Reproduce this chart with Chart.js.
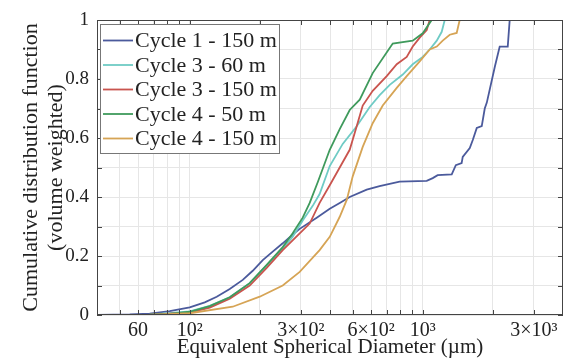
<!DOCTYPE html>
<html>
<head>
<meta charset="utf-8">
<script src="https://cdn.jsdelivr.net/npm/chart.js@4.4.1/dist/chart.umd.min.js"></script>
<style>
  html, body { margin: 0; padding: 0; background: #fff; }
  #wrap { width: 564px; height: 363px; }
</style>
</head>
<body>
<div id="wrap"><canvas id="cdf" width="564" height="363"></canvas></div>
<script>
// Cumulative distribution curves (diameter in um, CDF 0..1)
const seriesLabels = ['Cycle 1 - 150 m', 'Cycle 3 - 60 m', 'Cycle 3 - 150 m', 'Cycle 4 - 50 m', 'Cycle 4 - 150 m'];
const seriesColors = ['#4b5a9c', '#6fcbc5', '#c9544e', '#3f9a5c', '#d6a455'];

const cycle1x150 = [40, 55.3, 67.3, 82.1, 100, 116, 130.6, 148.5, 168.9, 186.4, 205.8, 227.1, 250.7, 274.1, 296.5, 350.8, 399, 440.4, 486, 575, 653, 796, 1040, 1104, 1159, 1332, 1387, 1469, 1485, 1592, 1640, 1706, 1792, 1846, 1884, 2037, 2140, 2317, 2362, 4000];
const cycle1y150 = [0, 0.002, 0.005, 0.013, 0.026, 0.043, 0.062, 0.088, 0.119, 0.15, 0.186, 0.215, 0.243, 0.27, 0.292, 0.33, 0.36, 0.38, 0.40, 0.425, 0.437, 0.452, 0.455, 0.464, 0.474, 0.477, 0.508, 0.515, 0.536, 0.566, 0.593, 0.634, 0.64, 0.70, 0.72, 0.84, 0.91, 0.91, 1, 1];

const cycle3x60 = [40, 67.3, 100, 121.9, 148.5, 180.9, 214, 250.7, 276.7, 305.5, 337.2, 361, 399, 453.6, 520.8, 592.3, 653.5, 722, 820.9, 906, 1000, 1071.5, 1148.6, 1206.6, 1243, 4000];
const cycle3y60 = [0, 0.001, 0.012, 0.031, 0.06, 0.108, 0.168, 0.225, 0.265, 0.32, 0.37, 0.41, 0.505, 0.58, 0.64, 0.705, 0.745, 0.78, 0.815, 0.85, 0.875, 0.9, 0.93, 0.96, 1, 1];

const cycle3x150 = [40, 67.3, 100, 121.9, 148.5, 180.9, 214, 250.7, 296.5, 327.3, 361, 399, 440.4, 486, 520.8, 552.7, 610, 700.6, 773.6, 853.8, 906, 970.8, 1040.4, 1071.5, 4000];
const cycle3y150 = [0, 0.001, 0.008, 0.025, 0.055, 0.1, 0.16, 0.22, 0.277, 0.31, 0.38, 0.44, 0.50, 0.56, 0.64, 0.71, 0.76, 0.81, 0.85, 0.875, 0.91, 0.94, 0.966, 1, 1];

const cycle4x50 = [40, 67.3, 82.1, 100, 121.9, 148.5, 180.9, 214, 250.7, 276.7, 305.5, 327.3, 354.3, 399, 440.4, 486, 536.6, 610, 743.5, 906, 1000, 1093, 4000];
const cycle4y50 = [0, 0.001, 0.004, 0.011, 0.03, 0.06, 0.108, 0.17, 0.23, 0.277, 0.33, 0.38, 0.45, 0.56, 0.63, 0.695, 0.73, 0.82, 0.92, 0.93, 0.955, 1, 1];

const cycle4x150 = [40, 67.3, 100, 152.9, 199.7, 250.7, 296.5, 361, 399, 440.4, 472, 500.7, 552.7, 610, 673.6, 773.6, 853.8, 970.8, 1071.5, 1148.6, 1218.6, 1306, 1399, 1441, 4000];
const cycle4y150 = [0, 0, 0.006, 0.028, 0.062, 0.10, 0.146, 0.22, 0.265, 0.333, 0.39, 0.47, 0.57, 0.65, 0.71, 0.77, 0.81, 0.86, 0.9, 0.91, 0.93, 0.95, 0.956, 1, 1];

const seriesX = [cycle1x150, cycle3x60, cycle3x150, cycle4x50, cycle4x150];
const seriesY = [cycle1y150, cycle3y60, cycle3y150, cycle4y50, cycle4y150];

// axis ticks
const xGridValues = [50, 60, 70, 80, 90, 100, 200, 300, 400, 500, 600, 700, 800, 900, 1000, 2000, 3000];
const xTickValues = [60, 100, 300, 600, 1000, 3000];
const xTickLabels = ['60', '10²', '3×10²', '6×10²', '10³', '3×10³'];
const yGridValues = [0, 0.1, 0.2, 0.3, 0.4, 0.5, 0.6, 0.7, 0.8, 0.9, 1];
const yTickValues = [0, 0.2, 0.4, 0.6, 0.8, 1];
const yTickLabels = ['0', '0.2', '0.4', '0.6', '0.8', '1'];

const serif = '"Liberation Serif", "DejaVu Serif", serif';
const textColor = '#222';

// inward tick marks, axes box and the boxed legend
const frameAndLegend = {
    id: 'frameAndLegend',
    afterDraw(chart) {
        const { ctx, chartArea: a, scales: { x, y } } = chart;
        ctx.save();
        ctx.strokeStyle = '#444';
        ctx.lineWidth = 1;
        ctx.beginPath();
        x.ticks.forEach(t => {
            const px = Math.round(x.getPixelForValue(t.value)) + 0.5;
            ctx.moveTo(px, a.bottom); ctx.lineTo(px, a.bottom - 5);
            ctx.moveTo(px, a.top); ctx.lineTo(px, a.top + 5);
        });
        y.ticks.forEach(t => {
            const py = Math.round(y.getPixelForValue(t.value)) + 0.5;
            ctx.moveTo(a.left, py); ctx.lineTo(a.left + 5, py);
            ctx.moveTo(a.right, py); ctx.lineTo(a.right - 5, py);
        });
        ctx.stroke();
        ctx.strokeRect(a.left + 0.5, a.top + 0.5, a.right - a.left - 1, a.bottom - a.top - 1);

        // legend
        const box = { left: 100, top: 24, width: 179, height: 129 };
        ctx.fillStyle = '#fff';
        ctx.fillRect(box.left, box.top, box.width, box.height);
        ctx.strokeStyle = '#777';
        ctx.strokeRect(box.left + 0.5, box.top + 0.5, box.width, box.height);
        ctx.font = '22px ' + serif;
        ctx.textBaseline = 'middle';
        ctx.textAlign = 'left';
        seriesLabels.forEach((lab, i) => {
            const ry = 40.5 + i * 24.5;
            ctx.strokeStyle = seriesColors[i];
            ctx.lineWidth = 1.8;
            ctx.beginPath();
            ctx.moveTo(103, ry); ctx.lineTo(133, ry);
            ctx.stroke();
            ctx.fillStyle = textColor;
            ctx.fillText(lab, 135, ry + 1);
        });
        ctx.restore();
    }
};

const datasets = seriesLabels.map((lab, i) => ({
    label: lab,
    data: seriesX[i].map((xv, j) => ({ x: xv, y: seriesY[i][j] })),
    borderColor: seriesColors[i],
    borderWidth: 1.8,
    pointRadius: 0,
    tension: 0,
    fill: false,
    order: seriesLabels.length - i
}));

new Chart(document.getElementById('cdf'), {
    type: 'line',
    data: { datasets },
    plugins: [frameAndLegend],
    options: {
        responsive: false,
        animation: false,
        devicePixelRatio: 1,
        layout: { padding: { top: 20, right: 1, left: 0, bottom: 0 } },
        plugins: { legend: { display: false }, tooltip: { enabled: false } },
        scales: {
            x: {
                type: 'logarithmic',
                min: 40,
                max: 4000,
                afterFit: s => { s.height = 48; },
                afterBuildTicks: s => { s.ticks = xGridValues.map(v => ({ value: v })); },
                grid: { color: '#e6e6e6', drawTicks: false },
                border: { display: false },
                ticks: {
                    autoSkip: false,
                    maxRotation: 0,
                    padding: 4,
                    color: textColor,
                    font: { family: serif, size: 20 },
                    callback: v => {
                        const i = xTickValues.indexOf(v);
                        return i >= 0 ? xTickLabels[i] : '';
                    }
                },
                title: {
                    display: true,
                    text: 'Equivalent Spherical Diameter (µm)',
                    color: textColor,
                    font: { family: serif, size: 21, lineHeight: 25 / 21 },
                    padding: { top: 0, bottom: 3.5 }
                }
            },
            y: {
                min: 0,
                max: 1,
                afterFit: s => { s.width = 97; },
                afterBuildTicks: s => { s.ticks = yGridValues.map(v => ({ value: v })); },
                grid: { color: '#e6e6e6', drawTicks: false },
                border: { display: false },
                ticks: {
                    autoSkip: false,
                    padding: 8,
                    color: textColor,
                    font: { family: serif, size: 19 },
                    callback: v => {
                        const i = yTickValues.findIndex(t => Math.abs(t - v) < 1e-6);
                        return i >= 0 ? yTickLabels[i] : '';
                    }
                },
                title: {
                    display: true,
                    text: ['Cumulative distribution function', '(volume weighted)'],
                    color: textColor,
                    font: { family: serif, size: 22, lineHeight: 25 / 22 },
                    padding: { top: 18.5, bottom: 0 }
                }
            }
        }
    }
});
</script>
</body>
</html>
